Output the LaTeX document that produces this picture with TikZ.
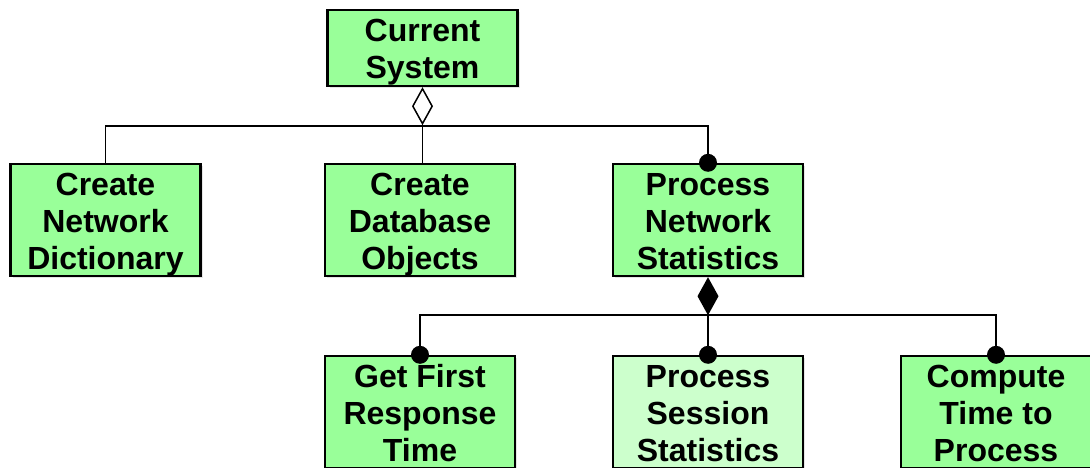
\documentclass[tikz,border=0pt]{standalone}
\usepackage{fontspec}
\setmainfont{Liberation Sans}
\usetikzlibrary{arrows.meta,shadows}
\definecolor{boxgreen}{RGB}{153,255,153}
\definecolor{palegreen}{RGB}{204,255,204}
% struts that give every label the same first-line height and last-line depth
\newcommand{\topstrut}{\rule{0pt}{31pt}}
\newcommand{\botstrut}{\rule[-7pt]{0pt}{7pt}}
\begin{document}
\begin{tikzpicture}[x=1pt,y=-1pt,
  task/.style={draw=black,line width=2.4pt,fill=boxgreen,
    minimum width=190pt,minimum height=112pt,inner sep=0pt,
    align=center,font=\fontsize{32}{37}\selectfont\bfseries,
    drop shadow={shadow xshift=2pt,shadow yshift=-2pt,fill=black,opacity=0.1}},
  link/.style={line width=1.9pt,draw=black},
  aggr/.style={link,{Diamond[open,length=38pt,width=21pt,line width=1.5pt]}-},
  comp/.style={link,{Diamond[length=38pt,width=21pt]}-},
  dotr/.style={fill=black}]
\useasboundingbox (0,0) rectangle (1090,468);
\clip (0,0) rectangle (1090,468);

% top level
\node[task,minimum height=76pt] (cs) at (422.5,48) {\topstrut Current\\System\botstrut};

% second level
\node[task] (cnd) at (105.5,220) {\topstrut Create\\Network\\Dictionary\botstrut};
\node[task] (cdo) at (420,220) {\topstrut Create\\Database\\Objects\botstrut};
\node[task] (pns) at (708,220) {\topstrut Process\\Network\\Statistics\botstrut};

% third level
\node[task] (gfr) at (420,412) {\topstrut Get First\\Response\\Time\botstrut};
\node[task,fill=palegreen] (pss) at (708,412) {\topstrut Process\\Session\\Statistics\botstrut};
\node[task] (ctp) at (996,412) {\topstrut Compute\\Time to\\Process\botstrut};

% aggregation of the current system
\coordinate (j1) at (cs.south |- 0,126);
\draw[aggr] (cs.south) -- (j1);
\draw[link] (j1) -- (cs.south |- cdo.north);
\draw[link] (j1) -| (cnd.north);
\draw[link] (j1) -| (pns.north);
\fill[dotr] (pns.north) circle (9);

% composition of network statistics processing
\coordinate (j2) at (pns.south |- 0,315);
\draw[comp] (pns.south) -- (j2);
\draw[link] (j2) -- (pss.north);
\draw[link] (j2) -| (gfr.north);
\draw[link] (j2) -| (ctp.north);
\fill[dotr] (gfr.north) circle (9);
\fill[dotr] (pss.north) circle (9);
\fill[dotr] (ctp.north) circle (9);
\end{tikzpicture}
\end{document}
